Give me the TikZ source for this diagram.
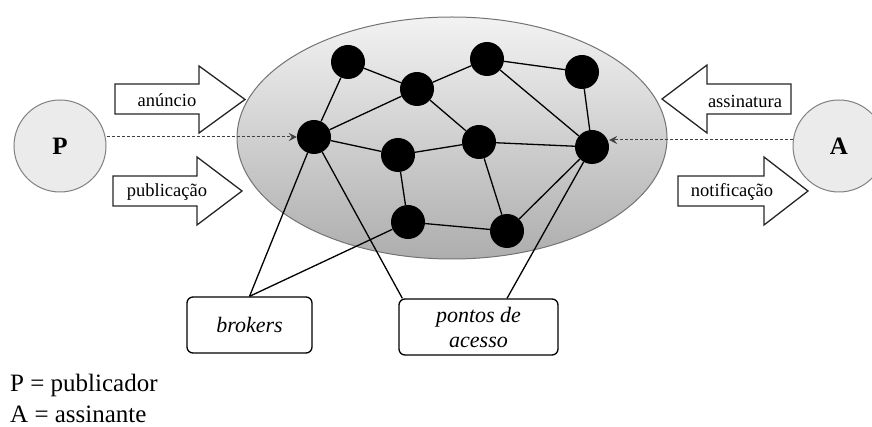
\documentclass[tikz,border=0pt]{standalone}
\usepackage{fontspec}
\setmainfont{Liberation Serif}
\usetikzlibrary{arrows.meta,shapes.geometric}
\begin{document}
\begin{tikzpicture}[x=1pt,y=-1pt,
  broker/.style={circle,fill=black,minimum size=34pt,inner sep=0pt},
  link/.style={draw=black,line width=1.3pt},
  party/.style={circle,draw=black!50,fill=black!8,line width=1pt,minimum size=92pt,inner sep=0pt,font=\fontsize{25}{30}\selectfont\bfseries},
  blockarrow/.style={draw=black!85,fill=white,line width=1.3pt,line join=miter},
  arrowlabel/.style={inner sep=0pt,font=\fontsize{18.5}{22}\selectfont},
  callout/.style={draw=black,fill=white,rounded corners=6pt,line width=1.3pt,inner sep=0pt,align=center,font=\fontsize{22}{25}\selectfont\itshape},
  flow/.style={draw=black!75,line width=1pt,dash pattern=on 3pt off 2pt,-{Stealth[length=8pt,width=8pt,inset=3pt]}},
  legendtext/.style={anchor=base west,inner sep=0pt,font=\fontsize{25}{31}\selectfont}
]
\useasboundingbox (0,0) rectangle (872,427);

% broker network cloud
\node[ellipse,draw=black!55,line width=1pt,top color=black!5,bottom color=black!32,
      minimum width=430pt,minimum height=242pt,inner sep=0pt] (net) at (452,138) {};

% publisher and subscriber
\node[party] (P) at (60,146) {P};
\node[party] (A) at (839,146) {A};

% operations
\draw[blockarrow] (115,84) -- (199,84) -- (199,66) -- (245,99.5) -- (199,133) -- (199,114) -- (115,114) -- cycle;
\node[arrowlabel] (lanuncio) at (167,100) {anúncio};
\draw[blockarrow] (113,176) -- (197,176) -- (197,157) -- (242,191) -- (197,225) -- (197,206) -- (113,206) -- cycle;
\node[arrowlabel] (lpublicacao) at (167,192) {publicação};
\draw[blockarrow] (791,84) -- (707,84) -- (707,65) -- (662,99) -- (707,133) -- (707,114) -- (791,114) -- cycle;
\node[arrowlabel] (lassinatura) at (745,101) {assinatura};
\draw[blockarrow] (678,176) -- (764,176) -- (764,157) -- (808,191) -- (764,225) -- (764,206) -- (678,206) -- cycle;
\node[arrowlabel] (lnotificacao) at (732,192) {notificação};

% brokers
\node[broker] (n1) at (348,62) {};
\node[broker] (n2) at (417,89) {};
\node[broker] (n3) at (487,59) {};
\node[broker] (n4) at (582,72) {};
\node[broker] (n5) at (314,137) {};
\node[broker] (n6) at (398,155) {};
\node[broker] (n7) at (479,142) {};
\node[broker] (n8) at (592,147) {};
\node[broker] (n9) at (408,222) {};
\node[broker] (n10) at (507,231) {};

\draw[link] (n1) -- (n2);
\draw[link] (n2) -- (n3);
\draw[link] (n3) -- (n4);
\draw[link] (n1) -- (n5);
\draw[link] (n5) -- (n2);
\draw[link] (n5) -- (n6);
\draw[link] (n6) -- (n7);
\draw[link] (n2) -- (n7);
\draw[link] (n3) -- (n8);
\draw[link] (n4) -- (n8);
\draw[link] (n7) -- (n8);
\draw[link] (n6) -- (n9);
\draw[link] (n7) -- (n10);
\draw[link] (n9) -- (n10);
\draw[link] (n10) -- (n8);

% access flows
\draw[flow] (P.east |- n5.west) -- (n5.west);
\coordinate (n8in) at ([yshift=7pt]n8.east);
\draw[flow] (A.west |- n8in) -- (n8in);

% callouts
\node[callout,minimum width=125pt,minimum height=56pt] (brokers) at (249.5,325) {brokers};
\node[callout,minimum width=159pt,minimum height=56pt] (pontos) at (478.5,327) {pontos de\\acesso};

\draw[link] (n5) -- (brokers.north);
\draw[link] (n9) -- (brokers.north);
\draw[link] (n5) -- ([xshift=4pt]pontos.north west);
\draw[link] (n8) -- ([xshift=28.5pt]pontos.north);

% legend
\node[legendtext] (lp) at (10,391) {P = publicador};
\node[legendtext] (la) at (10,422) {A = assinante};
\end{tikzpicture}
\end{document}
